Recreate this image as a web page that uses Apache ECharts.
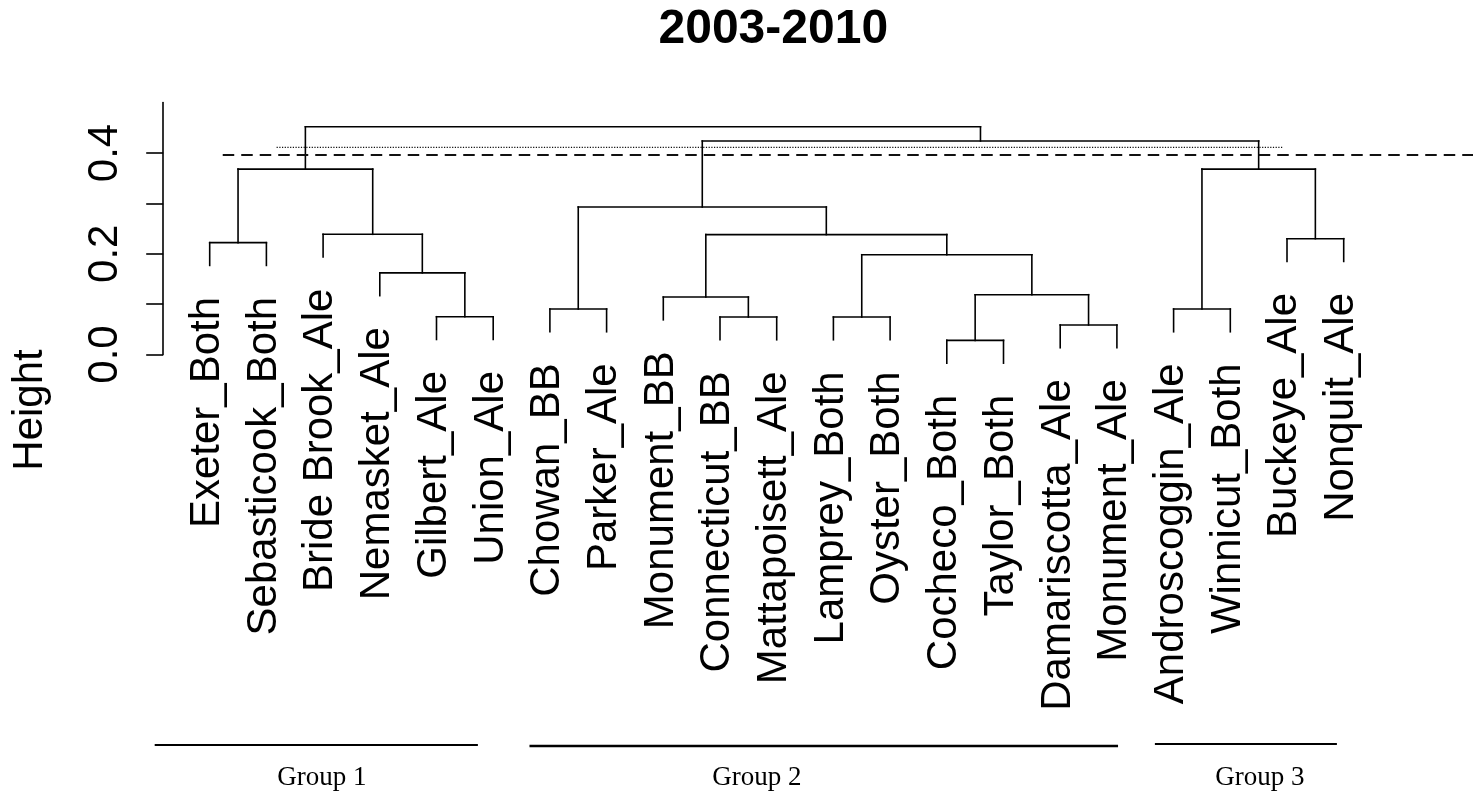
<!DOCTYPE html>
<html><head><meta charset="utf-8">
<script src="https://cdn.jsdelivr.net/npm/echarts@6/dist/echarts.min.js"></script>
<style>html,body{margin:0;padding:0;background:#fff}#c{width:1473px;height:795px}</style>
</head><body><div id="c"></div>
<script>
// ---------- data ----------
const chartTitle = "2003-2010";
const yAxisTitle = "Height";
const leafLabels = ["Exeter_Both","Sebasticook_Both","Bride Brook_Ale","Nemasket_Ale","Gilbert_Ale","Union_Ale",
  "Chowan_BB","Parker_Ale","Monument_BB","Connecticut_BB","Mattapoisett_Ale","Lamprey_Both","Oyster_Both",
  "Cocheco_Both","Taylor_Both","Damariscotta_Ale","Monument_Ale","Androscoggin_Ale","Winnicut_Both","Buckeye_Ale","Nonquit_Ale"];
// hclust-style merge table: negative = leaf (1-based), positive = earlier merge (1-based)
const mergeLeft   = [-14,-16,-10,-12,-5,-7,-18,-9, 1,-4, 4,-1,-20, 8,-3, 6,12, 7,16,17];
const mergeRight  = [-15,-17,-11,-13,-6,-8,-19, 3, 2, 5, 9,-2,-21,11,10,14,15,13,18,19];
const mergeHeight = [0.028,0.0586,0.0744,0.0744,0.075,0.0903,0.0903,0.114,0.1187,0.162,0.198,0.222,0.2299,0.238,0.2386,0.2928,0.368,0.368,0.4238,0.452];
const hangFraction = 0.1;
const yTickValues = [0, 0.1, 0.2, 0.3, 0.4];
const yLabelValues = [0, 0.2, 0.4];
const dashedCut = [0.396, 0.23, 22.3];   // height, from leaf pos, to leaf pos
const dottedCut = [0.411, 1.18, 18.93];
const groupNames = ["Group 1", "Group 2", "Group 3"];
const groupFrom  = [-0.97, 5.64, 16.67];
const groupTo    = [4.73, 16.02, 19.88];
const groupLabelAt = [1.98, 9.65, 18.52];

// ---------- build tree geometry ----------
const hang = hangFraction * Math.max(...mergeHeight);
const nodeX = [], leafEnd = [];
const segments = [];
function childPos(c, h) {
  if (c < 0) { const i = -c - 1; leafEnd[i] = h - hang; return [i, h - hang]; }
  return [nodeX[c - 1], mergeHeight[c - 1]];
}
for (let m = 0; m < mergeHeight.length; m++) {
  const h = mergeHeight[m];
  const a = childPos(mergeLeft[m], h), b = childPos(mergeRight[m], h);
  nodeX[m] = (a[0] + b[0]) / 2;
  segments.push([a[0], a[1], a[0], h]);
  segments.push([b[0], b[1], b[0], h]);
  segments.push([a[0], h, b[0], h]);
}
const leafData = leafLabels.map((n, i) => [i, leafEnd[i]]);

const FONT = '"Liberation Sans", Arial, Helvetica, sans-serif';
const chart = echarts.init(document.getElementById('c'), null, {renderer: 'canvas'});
chart.setOption({
  animation: false,
  backgroundColor: '#fff',
  title: {
    text: chartTitle, left: 773.3, top: 5.5, textAlign: 'center', padding: 0,
    textStyle: {fontSize: 48, fontWeight: 'bold', fontFamily: FONT, color: '#000'}
  },
  grid: {left: 163.2, right: 82.8, top: 102.6, bottom: 440.5, containLabel: false, outerBoundsMode: 'none'},
  xAxis: {type: 'value', min: -0.82, max: 20.82, show: false},
  yAxis: {
    type: 'value', min: 0, max: 0.5,
    axisLine: {show: true, onZero: false, lineStyle: {color: '#000', width: 1.6}},
    axisTick: {show: true, length: 17, customValues: yTickValues, lineStyle: {color: '#000', width: 1.6}},
    axisLabel: {show: true, customValues: yLabelValues, rotate: 90, margin: 37, fontSize: 42, fontFamily: FONT, color: '#000',
      formatter: v => v.toFixed(1)},
    splitLine: {show: false}
  },
  graphic: [{
    type: 'text', x: 30.5, y: 410, rotation: Math.PI / 2,
    style: {text: yAxisTitle, font: '42px ' + FONT, fill: '#000', align: 'center', verticalAlign: 'middle'}
  }],
  series: [
    {
      type: 'custom', name: 'tree', data: segments, encode: {x: [0, 2], y: [1, 3]}, clip: false,
      renderItem: (p, api) => {
        const s = api.coord([api.value(0), api.value(1)]), e = api.coord([api.value(2), api.value(3)]);
        return {type: 'line', shape: {x1: s[0], y1: s[1], x2: e[0], y2: e[1]}, style: {stroke: '#000', lineWidth: 1.6, lineCap: 'square'}};
      }
    },
    {
      type: 'custom', name: 'labels', data: leafData, encode: {x: 0, y: 1}, clip: false,
      renderItem: (p, api) => {
        const c = api.coord([api.value(0), api.value(1)]);
        return {type: 'text', x: c[0] - 2.2, y: c[1] + 31.5, rotation: Math.PI / 2,
          style: {text: leafLabels[p.dataIndex], font: '42px ' + FONT, fill: '#000', align: 'right', verticalAlign: 'middle'}};
      }
    },
    {
      type: 'custom', name: 'cuts', data: [dashedCut, dottedCut], clip: false,
      encode: {y: 0, x: [1, 2]},
      renderItem: (p, api) => {
        const s = api.coord([api.value(1), api.value(0)]), e = api.coord([api.value(2), api.value(0)]);
        const dashed = p.dataIndex === 0;
        return {type: 'line', shape: {x1: s[0], y1: s[1], x2: e[0], y2: e[1]},
          style: dashed ? {stroke: '#111', lineWidth: 1.9, lineDash: [11.5, 7]} : {stroke: '#111', lineWidth: 1.3, lineDash: [1.2, 1.5]}};
      }
    },
    {
      type: 'custom', name: 'groups', clip: false,
      data: groupNames.map((n, i) => [groupFrom[i], groupTo[i], groupLabelAt[i]]),
      encode: {x: [0, 1, 2]},
      renderItem: (p, api) => {
        const i = p.dataIndex;
        const lineY = [745, 746, 744][i], lw = [1.8, 2.6, 1.8][i];
        const a = api.coord([api.value(0), 0]), b = api.coord([api.value(1), 0]), t = api.coord([api.value(2), 0]);
        return {type: 'group', children: [
          {type: 'line', shape: {x1: a[0], y1: lineY, x2: b[0], y2: lineY}, style: {stroke: '#000', lineWidth: lw}},
          {type: 'text', x: t[0], y: 778, style: {text: groupNames[i], font: '27px "Liberation Serif", "Times New Roman", serif', fill: '#000', align: 'center', verticalAlign: 'middle'}}
        ]};
      }
    }
  ]
});
</script></body></html>
